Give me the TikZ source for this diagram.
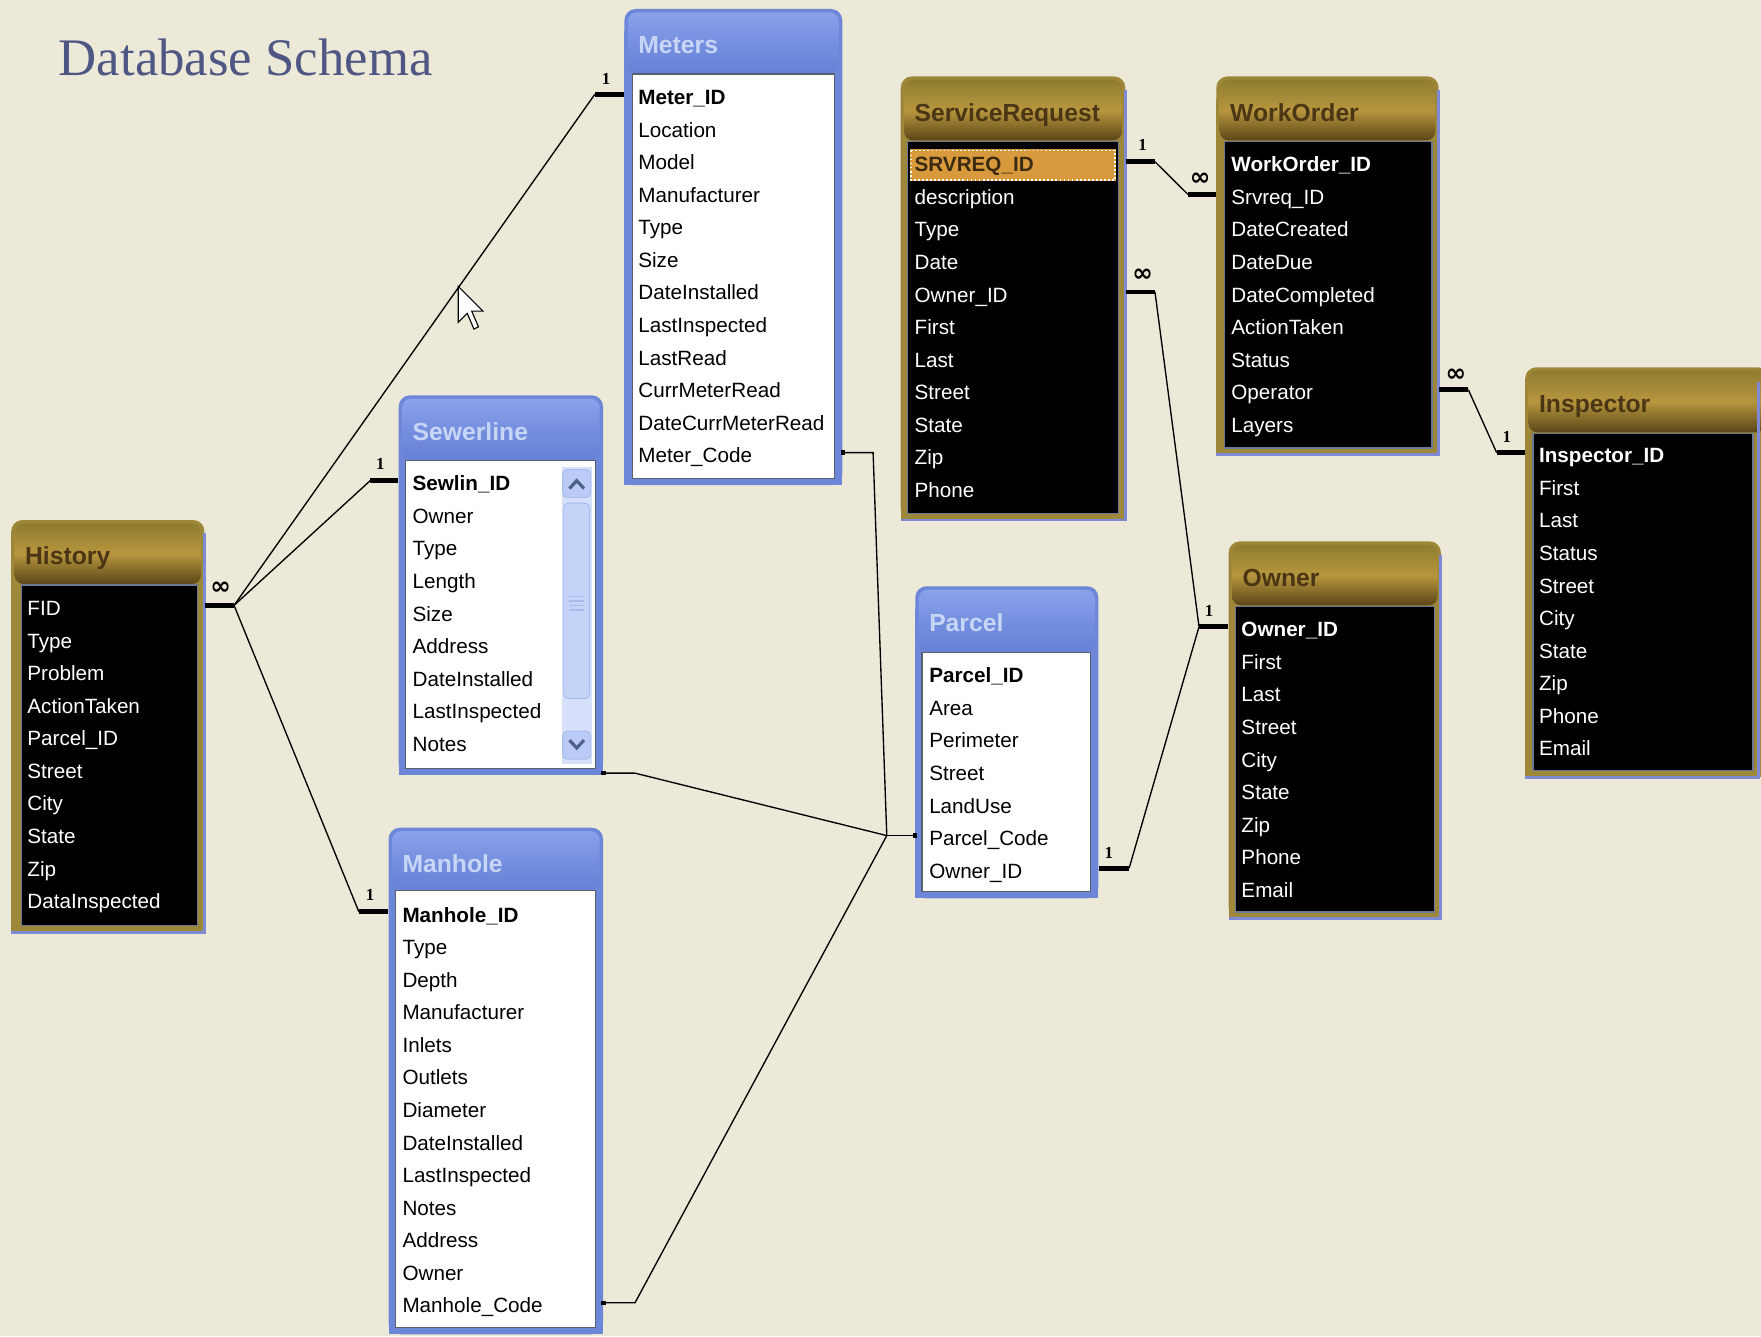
\documentclass[tikz,border=0pt]{standalone}
\usepackage{fontspec}
\usetikzlibrary{calc,fit}
\newfontfamily\lsans{Liberation Sans}
\newfontfamily\lserif{Liberation Serif}
\newfontfamily\djv{DejaVu Sans}
\newcommand\fldf{\lsans\fontsize{9.2pt}{11pt}\selectfont}
\newcommand\fldbf{\lsans\bfseries\fontsize{9.2pt}{11pt}\selectfont}
\newcommand\ttlf{\lsans\bfseries\fontsize{11pt}{13pt}\selectfont}
\newcommand\onef{\lserif\bfseries\fontsize{7.5pt}{8pt}\selectfont}
\newcommand\manyf{\djv\bfseries\fontsize{11pt}{12pt}\selectfont}
\definecolor{bg}{HTML}{ECE9D8}
\definecolor{headc}{HTML}{4E5684}
\definecolor{bluefr}{HTML}{6C86D8}
\definecolor{bluet1}{HTML}{8AA2EA}
\definecolor{bluet2}{HTML}{6580D6}
\definecolor{bluet3}{HTML}{7690E0}
\definecolor{bluetx}{HTML}{C8D6F6}
\definecolor{goldfr}{HTML}{9C8838}
\definecolor{goldt1}{HTML}{8E7C30}
\definecolor{goldt2}{HTML}{5A4618}
\definecolor{goldt3}{HTML}{B8963E}
\definecolor{goldtx}{HTML}{4A3614}
\definecolor{goldedge}{HTML}{7F8AD6}
\definecolor{innerw}{HTML}{5A6070}
\definecolor{innerb}{HTML}{6C7894}
\definecolor{hilite}{HTML}{D89A3C}
\definecolor{hilitetx}{HTML}{3A2A10}
\definecolor{scrtrack}{HTML}{D6E0FA}
\definecolor{scrbtn}{HTML}{B9CBF6}
\definecolor{scrarrow}{HTML}{4D6185}
\definecolor{scrthumb}{HTML}{C4D3F8}
\definecolor{scredge}{HTML}{A8BCEB}
% #1 name #2 x1 #3 y1 #4 x2 #5 y2 #6 inner top y #7 kind #8 title
\newcommand\tbframe[8]{%
  \coordinate (#1-nw) at (#2,#3);
  \coordinate (#1-se) at (#4,#5);
  \node[fit=(#1-nw)(#1-se), inner sep=0pt] (#1) {};
  \fill[#7fr, rounded corners=5pt] (#2,#3) rectangle (#4,#5);
  \fill[#7fr] (#2,{#3+20}) rectangle (#4,#5);
  \shade[top color=#7t1, bottom color=#7t2, middle color=#7t3, rounded corners=4pt]
    ({#2+3},{#3+3}) rectangle ({#4-3},{#6-1});
  \node[anchor=base west, inner sep=0pt, font=\ttlf, text=#7tx] at ({#2+12},{#3+40}) {#8};
}
% #1 name #2 x #3 first centre y #4 first style #5 colour #6 list
\newcommand\rows[6]{%
  \foreach \t [count=\i] in {#6} {%
    \ifnum\i=1\relax
      \node[fld, text=#5, #4] (#1-\i) at (#2,{#3+6}) {\t};
    \else
      \node[fld, text=#5] (#1-\i) at (#2,{#3+6+(\i-1)*29}) {\t};
    \fi
  }%
}
\begin{document}
\begin{tikzpicture}[x=0.5pt,y=-0.5pt,
  fld/.style={anchor=base west, inner sep=0pt, text height=10pt, text depth=1pt, font=\fldf},
  fldbold/.style={fld, font=\fldbf},
  srfirst/.style={fld, font=\fldbf, text=hilitetx},
  stub/.style={line width=2.2pt, black},
  rel/.style={line width=0.6pt, black},
  one/.style={font=\onef, inner sep=0pt},
  many/.style={font=\manyf, inner sep=0pt},
  whiteinner/.style={fill=white, draw=innerw, line width=0.6pt},
  blackinner/.style={fill=black, draw=innerb, line width=0.6pt},
  goldside/.style={draw=goldedge, line width=1.3pt},
  dot/.style={fill=black}
]
\useasboundingbox (0,0) rectangle (1568,1190);
\clip (0,0) rectangle (1568,1190);
\fill[bg] (0,0) rectangle (1568,1190);

\node[anchor=base west, inner sep=0pt, text=headc, font=\lserif\fontsize{23.5pt}{26pt}\selectfont] (heading) at (52,67) {Database Schema};

% ---------- History ----------
\tbframe{hist}{10}{463}{182}{830}{521}{gold}{History}
\draw[goldside] (182,475) -- (182,830) -- (10,830);
\filldraw[blackinner] (19,521) rectangle (176,824);
\rows{hist}{24}{542}{fld}{white}{FID,Type,Problem,ActionTaken,Parcel\_ID,Street,City,State,Zip,DataInspected}

% ---------- Meters ----------
\tbframe{met}{556}{8}{750}{432}{66}{blue}{Meters}
\filldraw[whiteinner] (563,66) rectangle (743,426);
\rows{met}{568}{87}{fldbold}{black}{Meter\_ID,Location,Model,Manufacturer,Type,Size,DateInstalled,LastInspected,LastRead,CurrMeterRead,DateCurrMeterRead,Meter\_Code}

% ---------- Sewerline ----------
\tbframe{sew}{355}{352}{537}{690}{410}{blue}{Sewerline}
\filldraw[whiteinner] (361,410) rectangle (530,684);
\fill[scrtrack] (500,416) rectangle (527,680);
\filldraw[fill=scrbtn, draw=scredge, rounded corners=2pt] (501,418) rectangle (526,443);
\filldraw[fill=scrbtn, draw=scredge, rounded corners=2pt] (501,651) rectangle (526,676);
\draw[scrarrow, line width=1.4pt] (507,435) -- (513.5,428) -- (520,435);
\draw[scrarrow, line width=1.4pt] (507,659) -- (513.5,666) -- (520,659);
\filldraw[fill=scrthumb, draw=scredge, rounded corners=2pt] (502,448) rectangle (525,622);
\foreach \gy in {531,535,539,543} \draw[scredge, line width=0.6pt] (507,\gy) -- (520,\gy);
\rows{sew}{367}{431}{fldbold}{black}{Sewlin\_ID,Owner,Type,Length,Size,Address,DateInstalled,LastInspected,Notes}

% ---------- Manhole ----------
\tbframe{man}{346}{737}{537}{1188}{793}{blue}{Manhole}
\filldraw[whiteinner] (352,793) rectangle (530,1182);
\rows{man}{358}{815}{fldbold}{black}{Manhole\_ID,Type,Depth,Manufacturer,Inlets,Outlets,Diameter,DateInstalled,LastInspected,Notes,Address,Owner,Manhole\_Code}

% ---------- ServiceRequest ----------
\tbframe{sr}{802}{68}{1002}{463}{126}{gold}{ServiceRequest}
\draw[goldside] (1002,80) -- (1002,463) -- (802,463);
\filldraw[blackinner] (808,126) rectangle (996,457);
\fill[hilite] (810,133) rectangle (994,161);
\draw[white, densely dotted, line width=0.8pt] (811,134) rectangle (993,160);
\rows{sr}{814}{147}{srfirst}{white}{SRVREQ\_ID,description,Type,Date,Owner\_ID,First,Last,Street,State,Zip,Phone}

% ---------- WorkOrder ----------
\tbframe{wo}{1083}{68}{1281}{405}{126}{gold}{WorkOrder}
\draw[goldside] (1281,80) -- (1281,405) -- (1083,405);
\filldraw[blackinner] (1090,126) rectangle (1275,399);
\rows{wo}{1096}{147}{fldbold}{white}{WorkOrder\_ID,Srvreq\_ID,DateCreated,DateDue,DateCompleted,ActionTaken,Status,Operator,Layers}

% ---------- Inspector ----------
\tbframe{ins}{1358}{327}{1575}{692}{386}{gold}{Inspector}
\draw[goldside] (1566,340) -- (1566,692) -- (1358,692);
\filldraw[blackinner] (1365,386) rectangle (1561,686);
\rows{ins}{1370}{406}{fldbold}{white}{Inspector\_ID,First,Last,Status,Street,City,State,Zip,Phone,Email}

% ---------- Parcel ----------
\tbframe{par}{815}{522}{978}{800}{581}{blue}{Parcel}
\filldraw[whiteinner] (821,581) rectangle (971,794);
\rows{par}{827}{602}{fldbold}{black}{Parcel\_ID,Area,Perimeter,Street,LandUse,Parcel\_Code,Owner\_ID}

% ---------- Owner ----------
\tbframe{own}{1094}{482}{1283}{818}{540}{gold}{Owner}
\draw[goldside] (1283,494) -- (1283,818) -- (1094,818);
\filldraw[blackinner] (1100,540) rectangle (1277,812);
\rows{own}{1105}{561}{fldbold}{white}{Owner\_ID,First,Last,Street,City,State,Zip,Phone,Email}

% ---------- relationships ----------
% History (many) to Meters, Sewerline, Manhole (one)
\draw[stub] (hist.east |- hist-1.west) -- ++(26,0) coordinate (hJ);
\node[many] (hM) at ($(hJ)+(-12,-15)$) {∞};
\draw[stub] (met.west |- met-1.west) -- ++(-26,0) coordinate (mJ);
\node[one] (m1L) at ($(mJ)+(10,-14)$) {1};
\draw[stub] (sew.west |- sew-1.west) -- ++(-25,0) coordinate (sJ);
\node[one] (s1L) at ($(sJ)+(9,-15)$) {1};
\draw[stub] (man.west |- man-1.west) -- ++(-26,0) coordinate (mhJ);
\node[one] (mh1L) at ($(mhJ)+(10,-15)$) {1};
\draw[rel] (hJ) -- (mJ);
\draw[rel] (hJ) -- (sJ);
\draw[rel] (hJ) -- (mhJ);

% Parcel_Code joins
\coordinate (pj) at ($(par.west |- par-6.west)+(-25,0)$);
\draw[rel] (par.west |- par-6.west) -- (pj);
\fill[dot] ($(par.west |- par-6.west)+(-2,-2)$) rectangle ++(4,4);
\draw[rel] (met.east |- met-12.west) -- ++(27,0) -- (pj);
\fill[dot] ($(met.east |- met-12.west)+(-2,-2)$) rectangle ++(4,4);
\draw[rel] ($(sew.south east)+(0,-2)$) -- ++(28,0) -- (pj);
\fill[dot] ($(sew.south east)+(-2,-4)$) rectangle ++(4,4);
\draw[rel] (man.east |- man-13.west) -- ++(28,0) -- (pj);
\fill[dot] ($(man.east |- man-13.west)+(-2,-2)$) rectangle ++(4,4);

% Parcel / ServiceRequest to Owner
\draw[stub] (par.east |- par-7.west) -- ++(27,0) coordinate (po);
\node[one] (p1L) at ($(po)+(-18,-14)$) {1};
\draw[stub] (own.west |- own-1.west) -- ++(-26,0) coordinate (oj);
\node[one] (o1L) at ($(oj)+(9,-14)$) {1};
\draw[stub] (sr.east |- sr-5.west) -- ++(26,0) coordinate (so);
\node[many] (soM) at ($(so)+(-11,-15)$) {∞};
\draw[rel] (po) -- (oj);
\draw[rel] (so) -- (oj);

% ServiceRequest to WorkOrder
\draw[stub] (sr.east |- sr-1.west) -- ++(26,0) coordinate (s1);
\node[one] (sr1L) at ($(s1)+(-11,-15)$) {1};
\draw[stub] (wo.west |- wo-2.west) -- ++(-25,0) coordinate (w2);
\node[many] (w2M) at ($(w2)+(11,-13)$) {∞};
\draw[rel] (s1) -- (w2);

% WorkOrder to Inspector
\draw[stub] (wo.east |- wo-8.west) -- ++(26,0) coordinate (w8);
\node[many] (w8M) at ($(w8)+(-11,-13)$) {∞};
\draw[stub] (ins.west |- ins-1.west) -- ++(-25,0) coordinate (i1);
\node[one] (i1L) at ($(i1)+(9,-14)$) {1};
\draw[rel] (w8) -- (i1);

% mouse pointer
\filldraw[fill=white, draw=black, line width=0.5pt] (408,255) -- ++(0,32) -- ++(8,-8) -- ++(6,14) -- ++(4,-2) -- ++(-6,-14) -- ++(10,0) -- cycle;
\end{tikzpicture}
\end{document}
